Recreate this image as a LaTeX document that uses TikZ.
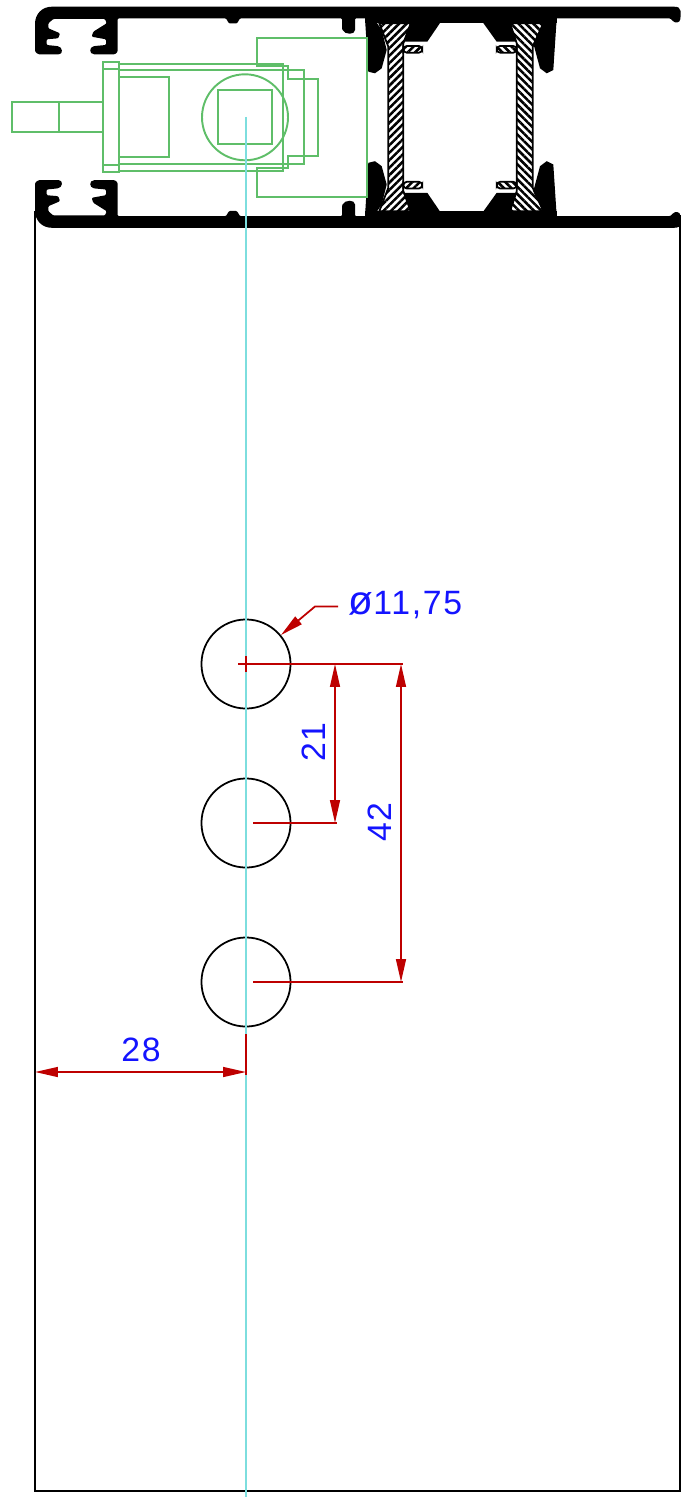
\documentclass[tikz,border=0pt]{standalone}
\usepackage{fontspec}
\usetikzlibrary{arrows.meta,patterns.meta}
\newfontfamily\dimfont[LetterSpace=5]{Liberation Sans}
\definecolor{dimred}{RGB}{190,0,0}
\definecolor{dimblue}{RGB}{20,20,255}
\definecolor{partgreen}{RGB}{95,190,105}
\definecolor{axiscyan}{RGB}{125,222,222}
\tikzset{
	outline/.style={draw=black,line width=0.5pt},
	part/.style={draw=partgreen,line width=0.55pt},
	axisline/.style={draw=axiscyan,line width=0.55pt},
	dimline/.style={draw=dimred,line width=0.5pt},
	dimarrow/.style={dimline,{Triangle[length=6.5pt,width=2.8pt]}-{Triangle[length=6.5pt,width=2.8pt]}},
	leader/.style={dimline,{Triangle[length=6.5pt,width=2.8pt]}-},
	dimtext/.style={text=dimblue,inner sep=0pt,font=\dimfont\fontsize{9.6}{11}\selectfont},
	hole/.style={circle,draw=black,line width=0.5pt,inner sep=0pt,minimum size=0.89cm},
	hatchleft/.style={pattern={Lines[angle=45,distance=1.5pt,line width=0.72pt]}},
	hatchright/.style={pattern={Lines[angle=-45,distance=1.5pt,line width=0.72pt]}},
}
\newcommand{\halfprofile}{
	\fill[black,rounded corners=0.3pt] (35,25) .. controls (35,14) and (42,6.7) .. (53,6.7) -- (673,6.7)
		.. controls (678,6.7) and (680.5,8) .. (680.5,12) -- (680.5,18) .. controls (680,23) and (675,23.5) .. (672,20)
		-- (670,18.3) -- (355,18.3) -- (355,29) .. controls (355,35) and (345,35) .. (342,29) -- (342,18.3)
		-- (240,18.3) -- (237,23.5) -- (229,23.5) -- (226,18.3) -- (117.7,18.3)
		-- (117.7,51.7) -- (115,54.3) -- (95,54.3) .. controls (89,54) and (89,47) .. (95,46) -- (106,45) -- (106,39.3)
		-- (91.7,36.7) -- (93.3,31.7) -- (106.7,23.3) -- (105,19) -- (53.3,19) -- (48.3,23.3) -- (48.3,28.3)
		-- (60,33.3) -- (58.3,38.3) -- (46.7,39.3) -- (46.7,45) -- (56.7,46) .. controls (63,47) and (63,54) .. (58.3,54.3)
		-- (38.3,54.3) -- (35,51.7) -- cycle;
	\fill[black] (365,18) -- (557,18) -- (557,23.3) -- (365,23.3) -- cycle;
	\fill[black] (365,18.3) -- (368.3,71.7) -- (375,73.3) -- (381.7,68.3) -- (386.7,50) -- (381.7,30) -- (376.7,22.7) -- cycle;
	\fill[black] (556.7,18.3) -- (553.3,70) -- (546.7,73.3) -- (540,68.3) -- (533.3,43.3) -- (543.3,23) -- cycle;
	\fill[black] (410.7,23) -- (440,23) -- (427.3,41.7) -- (403.3,41.7) -- cycle;
	\fill[black] (483.3,23) -- (510,23) -- (516.7,41.7) -- (496.7,41.7) -- cycle;
	\draw[outline,hatchleft,rounded corners=1pt] (403.3,46) -- (422.3,46) -- (422.3,52.7) -- (403.3,52.7) -- cycle;
	\draw[outline,hatchright,rounded corners=1pt] (516.7,46) -- (496.7,46) -- (496.7,52.7) -- (516.7,52.7) -- cycle;
}

\begin{document}
\begin{tikzpicture}[x=0.01cm,y=-0.01cm]
	\useasboundingbox (0,0) rectangle (690,1497);

	\draw[outline] (35,211) -- (35,1491) -- (680,1491) -- (680,215);

	\halfprofile
	\begin{scope}[shift={(0,234.5)},yscale=-1]
		\halfprofile
	\end{scope}
	\draw[outline,hatchleft] (379.3,23.3) -- (388.3,46.7) -- (388.3,187.8) -- (379.3,211.2) -- (410.7,211.2) -- (403.3,191) -- (403.3,43.5) -- (410.7,23.3) -- cycle;
	\draw[outline,hatchright] (510,23.3) -- (516.7,43.3) -- (516.7,191.2) -- (510,211.2) -- (543.3,211.2) -- (532.7,187.8) -- (532.7,46.7) -- (543.3,23.3) -- cycle;

	\draw[part] (12,102.3) rectangle (103.3,132.3);
	\draw[part] (58.7,102.3) -- (58.7,132.3);
	\draw[part] (103.3,62.3) rectangle (119,171.7);
	\draw[part] (103.3,69) -- (119,69);
	\draw[part] (103.3,165) -- (119,165);
	\draw[part] (119,64) rectangle (283.3,171);
	\draw[part] (119,70) -- (304.3,70) -- (304.3,164.3) -- (119,164.3);
	\draw[part] (119,77.3) rectangle (169.3,156.7);
	\draw[part] (245,117.3) circle (43);
	\draw[part] (218,90) rectangle (272.3,144.3);
	\draw[part] (283.3,65.7) -- (288.3,65.7) -- (288.3,78.7) -- (318.3,78.7) -- (318.3,155.7) -- (288.3,155.7) -- (288.3,168.3) -- (283.3,168.3);
	\draw[part] (283.3,65.7) -- (256.7,65.7) -- (256.7,37.7) -- (367,37.7) -- (367,197) -- (256.7,197) -- (256.7,168.3) -- (283.3,168.3);

	\node[hole] (holeA) at (246,664) {};
	\node[hole] (holeB) at (246,823) {};
	\node[hole] (holeC) at (246,982) {};
	\coordinate (axisTop) at (246,117);
	\coordinate (axisEnd) at (246,1497);
	\draw[axisline] (axisTop) -- (axisEnd);

	\coordinate (extA) at (403,664);
	\coordinate (extB) at (253,823);
	\coordinate (extC) at (253,982);
	\coordinate (dimShortTop) at (335,664);
	\coordinate (dimShortEnd) at (335,823);
	\coordinate (dimLongTop) at (401,664);
	\coordinate (dimLongEnd) at (401,982);
	\coordinate (extD) at (246,1034);
	\coordinate (dimWideLeft) at (35,1072);
	\coordinate (dimWideRight) at (246,1072);
	\coordinate (leadTip) at (281,635);
	\coordinate (leadKnee) at (315,606.5);
	\coordinate (leadEnd) at (338,606.5);

	\draw[dimline] (238,664) -- (extA);
	\draw[dimline] (246,656) -- (246,672);
	\draw[dimline] (extB) -- (337,823);
	\draw[dimline] (extC) -- (403,982);
	\draw[dimline] (extD) -- (246,1075);
	\draw[dimarrow] (dimShortTop) -- (dimShortEnd);
	\draw[dimarrow] (dimLongTop) -- (dimLongEnd);
	\draw[dimarrow] (dimWideLeft) -- (dimWideRight);
	\draw[leader] (leadTip) -- (leadKnee) -- (leadEnd);

	\node[dimtext] (labelDia) at (405.5,605) {{\fontsize{11.5}{11}\selectfont ø}11,75};
	\node[dimtext,rotate=90] (labelShort) at (314,742) {21};
	\node[dimtext,rotate=90] (labelLong) at (380,822) {42};
	\node[dimtext] (labelWide) at (141,1050) {28};
\end{tikzpicture}
\end{document}
